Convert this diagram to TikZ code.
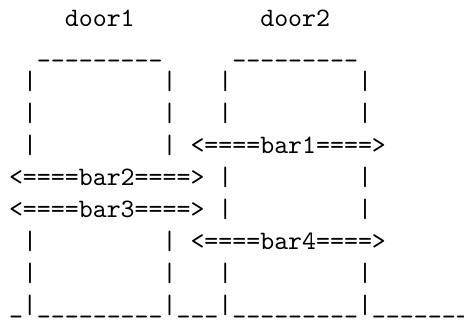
\documentclass[tikz,border=0pt]{standalone}
\begin{document}
\begin{tikzpicture}[
  txt/.style={anchor=base west, inner sep=0pt, outer sep=0pt, font=\ttfamily},
]
\useasboundingbox (0pt,0pt) rectangle (174.5pt,-120.7pt);
% character grid: one unit = one monospace cell (column, line)
\begin{scope}[shift={(3.4pt,-9.8pt)}, x=5.25pt, y=-12pt]
  % labels
  \node[txt] (door1) at (4,0) {door1};
  \node[txt] (door2) at (18,0) {door2};
  % lintels
  \node[txt] (roof1) at (2,1) {\_\_\_\_\_\_\_\_\_};
  \node[txt] (roof2) at (16,1) {\_\_\_\_\_\_\_\_\_};
  % door posts
  \foreach \r in {2,3,8} {
    \node[txt] (pa\r) at (1,\r) {|};
    \node[txt] (pb\r) at (11,\r) {|};
    \node[txt] (pc\r) at (15,\r) {|};
    \node[txt] (pd\r) at (25,\r) {|};
  }
  \foreach \r in {4,7} {
    \node[txt] (pa\r) at (1,\r) {|};
    \node[txt] (pb\r) at (11,\r) {|};
  }
  \foreach \r in {5,6} {
    \node[txt] (pc\r) at (15,\r) {|};
    \node[txt] (pd\r) at (25,\r) {|};
  }
  % bars
  \node[txt] (bar1) at (13,4) {<====bar1====>};
  \node[txt] (bar2) at (0,5) {<====bar2====>};
  \node[txt] (bar3) at (0,6) {<====bar3====>};
  \node[txt] (bar4) at (13,7) {<====bar4====>};
  % floor, running off the right edge
  \node[txt] (floor) at (0,9) {\_|\_\_\_\_\_\_\_\_\_|\_\_\_|\_\_\_\_\_\_\_\_\_|\_\_\_\_\_\_\_};
\end{scope}
\end{tikzpicture}
\end{document}
